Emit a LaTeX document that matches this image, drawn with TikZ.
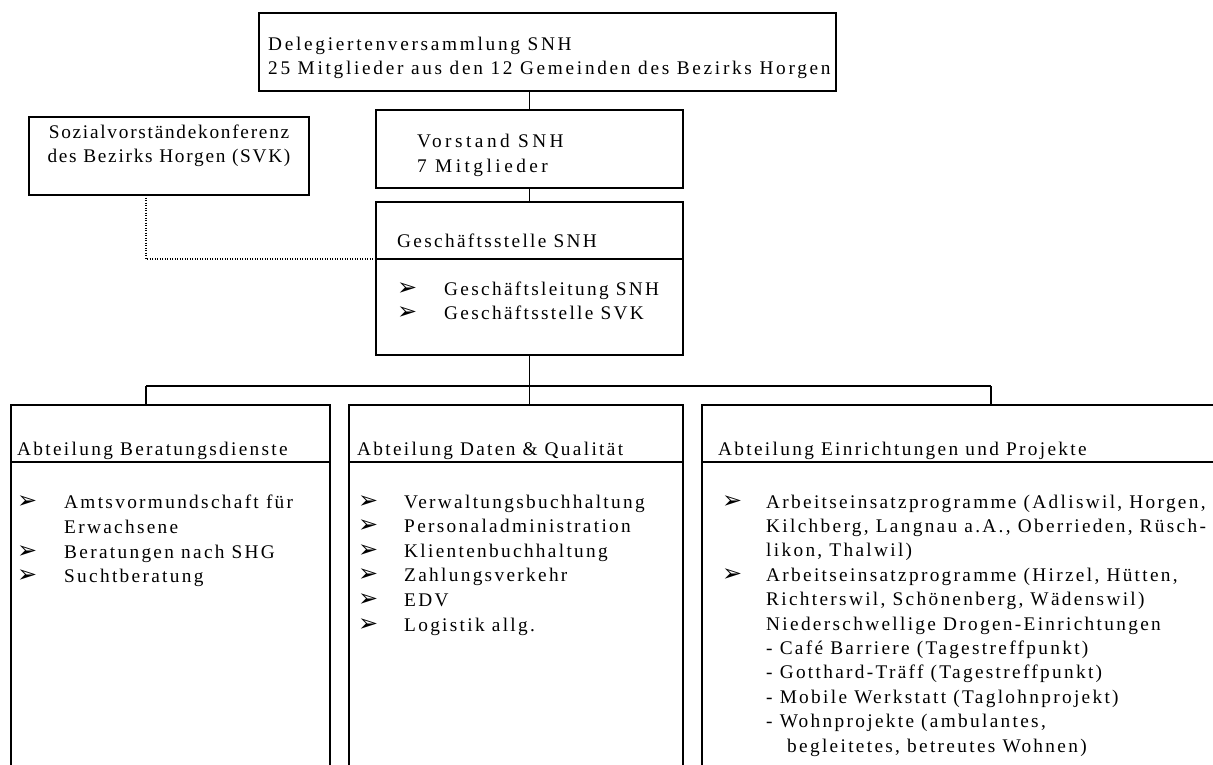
\documentclass[tikz,border=0pt]{standalone}
\usepackage{fontspec}
\setmainfont{Liberation Serif}[LetterSpace=12]
\newfontfamily\fTop{Liberation Serif}[LetterSpace=14]
\newfontfamily\fVor{Liberation Serif}[LetterSpace=18]
\newfontfamily\fSvk{Liberation Serif}[LetterSpace=9]
\newfontfamily\symfont{DejaVu Sans}
\begin{document}
\begin{tikzpicture}[x=1pt,y=-1pt,
  box/.style={draw, line width=1.5pt, rectangle, inner sep=0pt, outer sep=0pt, anchor=north west},
  txt/.style={anchor=base west, inner sep=0pt, font=\fontsize{19.3}{24}\selectfont},
  ctxt/.style={anchor=base, inner sep=0pt, font=\fSvk\fontsize{19.3}{24}\selectfont},
  toptxt/.style={txt, font=\fTop\fontsize{19.3}{24}\selectfont},
  vortxt/.style={txt, font=\fVor\fontsize{19.3}{24}\selectfont},
  bul/.style={anchor=base west, inner sep=0pt, font=\symfont\fontsize{24}{24}\selectfont},
  link/.style={line width=1.5pt},
  dots/.style={line width=1.2pt, dash pattern=on 1.2pt off 1.3pt}]
\useasboundingbox (0,0) rectangle (1213,765);

% boxes
\node[box, minimum width=577pt, minimum height=78pt] (top) at (259,13) {};
\node[box, minimum width=280pt, minimum height=78pt] (svk) at (29,117) {};
\node[box, minimum width=307pt, minimum height=78pt] (vor) at (376,110) {};
\node[box, minimum width=307pt, minimum height=153pt] (gs) at (376,202) {};
\node[box, minimum width=319pt, minimum height=420pt] (ab1) at (11,405) {};
\node[box, minimum width=334pt, minimum height=420pt] (ab2) at (349,405) {};
\node[box, minimum width=560pt, minimum height=420pt] (ab3) at (702,405) {};

% dividers
\coordinate (gsd) at (376,259);
\coordinate (abd) at (0,462);
\draw[link] (gsd) -- (gsd -| gs.east);
\draw[link] (ab1.west |- abd) -- (ab1.east |- abd);
\draw[link] (ab2.west |- abd) -- (ab2.east |- abd);
\draw[link] (ab3.west |- abd) -- (ab3.east |- abd);

% connectors
\coordinate (busL) at (146,386);
\coordinate (busM) at (529.5,386);
\coordinate (busR) at (991,386);
\draw[link] (vor.north) -- (vor.north |- top.south);
\draw[link] (vor.south) -- (gs.north);
\draw[link] (gs.south) -- (busM);
\draw[link] (busL) -- (busR);
\draw[link] (busL) -- (busL |- ab1.north);
\draw[link] (busM) -- (busM |- ab2.north);
\draw[link] (busR) -- (busR |- ab3.north);
\draw[dots] (busL |- svk.south) -- (busL |- gsd) -- (gsd);

% top texts
\node[toptxt] (t1) at (268,50.5) {Delegiertenversammlung SNH};
\node[toptxt] (t2) at (268,74.5) {25 Mitglieder aus den 12 Gemeinden des Bezirks Horgen};
\node[ctxt] (s1) at (169,139) {Sozialvorständekonferenz};
\node[ctxt] (s2) at (169,163) {des Bezirks Horgen (SVK)};
\node[vortxt] (v1) at (417,148) {Vorstand SNH};
\node[vortxt] (v2) at (417,172) {7 Mitglieder};
\node[txt] (g0) at (397,247) {Geschäftsstelle SNH};
\node[bul] (gb1) at (397,295) {➢};
\node[txt] (g1) at (444,295) {Geschäftsleitung SNH};
\node[bul] (gb2) at (397,319) {➢};
\node[txt] (g2) at (444,319) {Geschäftsstelle SVK};

% Abteilung 1
\node[txt] (a1) at (17,455) {Abteilung Beratungsdienste};
\node[bul] (a1b1) at (17,508) {➢};
\node[txt] (a1t1) at (64,508) {Amtsvormundschaft für};
\node[txt] (a1t2) at (64,533) {Erwachsene};
\node[bul] (a1b3) at (17,558) {➢};
\node[txt] (a1t3) at (64,558) {Beratungen nach SHG};
\node[bul] (a1b4) at (17,582) {➢};
\node[txt] (a1t4) at (64,582) {Suchtberatung};

% Abteilung 2
\node[txt] (a2) at (357,455) {Abteilung Daten \& Qualität};
\foreach \t [count=\i] in {Verwaltungsbuchhaltung, Personaladministration, Klientenbuchhaltung, Zahlungsverkehr, EDV, Logistik allg.}{
  \node[bul] (a2b\i) at (358,{508+24.6*(\i-1)}) {➢};
  \node[txt] (a2t\i) at (404,{508+24.6*(\i-1)}) {\t};
}

% Abteilung 3
\node[txt] (a3) at (718,455) {Abteilung Einrichtungen und Projekte};
\node[bul] (a3b1) at (722,508) {➢};
\node[txt] (a3t1) at (766,508) {Arbeitseinsatzprogramme (Adliswil, Horgen,};
\node[txt] (a3t2) at (766,532.4) {Kilchberg, Langnau a.A., Oberrieden, Rüsch-};
\node[txt] (a3t3) at (766,556.8) {likon, Thalwil)};
\node[bul] (a3b4) at (722,581.2) {➢};
\node[txt] (a3t4) at (766,581.2) {Arbeitseinsatzprogramme (Hirzel, Hütten,};
\node[txt] (a3t5) at (766,605.6) {Richterswil, Schönenberg, Wädenswil)};
\node[txt] (a3t6) at (766,630) {Niederschwellige Drogen-Einrichtungen};
\node[txt] (a3t7) at (766,654.4) {- Café Barriere (Tagestreffpunkt)};
\node[txt] (a3t8) at (766,678.8) {- Gotthard-Träff (Tagestreffpunkt)};
\node[txt] (a3t9) at (766,703.2) {- Mobile Werkstatt (Taglohnprojekt)};
\node[txt] (a3t10) at (766,727.6) {- Wohnprojekte (ambulantes,};
\node[txt] (a3t11) at (787,752) {begleitetes, betreutes Wohnen)};
\end{tikzpicture}
\end{document}
